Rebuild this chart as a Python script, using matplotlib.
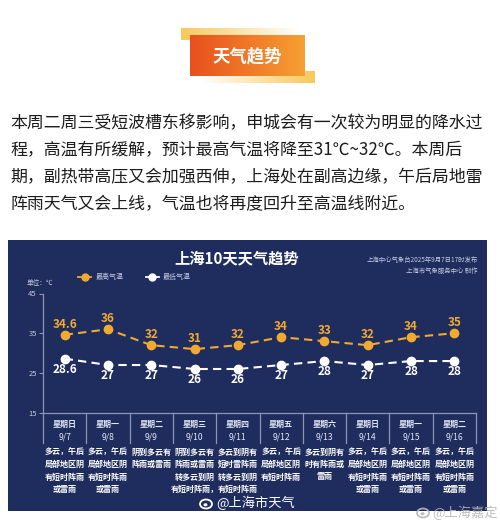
import matplotlib
matplotlib.use('Agg')
import matplotlib.pyplot as plt
import numpy as np
from matplotlib import transforms
from matplotlib.patches import Rectangle, Ellipse
from matplotlib.lines import Line2D

plt.rcParams['font.family'] = ['Noto Sans CJK SC', 'DejaVu Sans']

# ---------------- data ----------------
weekdays = ["星期日", "星期一", "星期二", "星期三", "星期四",
            "星期五", "星期六", "星期日", "星期一", "星期二"]
dates = ["9/7", "9/8", "9/9", "9/10", "9/11", "9/12", "9/13", "9/14", "9/15", "9/16"]
high_temp = [34.6, 36, 32, 31, 32, 34, 33, 32, 34, 35]
low_temp = [28.6, 27, 27, 26, 26, 27, 28, 27, 28, 28]
y_ticks = [15, 25, 35, 45]
descriptions = [
    ["多云，午后", "局部地区阴", "有短时阵雨", "或雷雨"],
    ["多云，午后", "局部地区阴", "有短时阵雨", "或雷雨"],
    ["阴到多云有", "阵雨或雷雨"],
    ["阴到多云有", "阵雨或雷雨", "转多云到阴", "有短时阵雨，"],
    ["多云到阴有", "短时雷阵雨", "转多云到阴", "有短时阵雨"],
    ["多云，午后", "局部地区阴", "有短时阵雨"],
    ["多云到阴有", "时有阵雨或", "雷雨"],
    ["多云，午后", "局部地区阴", "有短时阵雨", "或雷雨"],
    ["多云，午后", "局部地区阴", "有短时阵雨", "或雷雨"],
    ["多云，午后", "局部地区阴", "有短时阵雨", "或雷雨"],
]
paragraph = [
    "本周二周三受短波槽东移影响，申城会有一次较为明显的降水过",
    "程，高温有所缓解，预计最高气温将降至31℃~32℃。本周后",
    "期，副热带高压又会加强西伸，上海处在副高边缘，午后局地雷",
    "阵雨天气又会上线，气温也将再度回升至高温线附近。",
]
banner_title = "天气趋势"
chart_title = "上海10天天气趋势"
source_lines = ["上海中心气象台2025年9月7日17时发布", "上海市气象服务中心 制作"]

# ---------------- figure ----------------
W, H = 500, 525
fig = plt.figure(figsize=(W / 100, H / 100), dpi=100)
fig.patch.set_facecolor('white')

bg = fig.add_axes([0, 0, 1, 1], zorder=0)
bg.set_xlim(0, W)
bg.set_ylim(H, 0)
bg.axis('off')

# banner
yellow = np.array([248, 200, 90]) / 255
grad_tl = np.zeros((1, 100, 4)); grad_tl[..., :3] = yellow; grad_tl[0, :, 3] = np.linspace(1, 0, 100)
bg.imshow(grad_tl, extent=(181, 300, 40, 28), aspect='auto', zorder=1)
grad_br = np.zeros((1, 100, 4)); grad_br[..., :3] = yellow; grad_br[0, :, 3] = np.linspace(0, 1, 100)
bg.imshow(grad_br, extent=(200, 315, 83, 71), aspect='auto', zorder=1)
c1 = np.array([232, 80, 30]) / 255
c2 = np.array([247, 160, 50]) / 255
t = np.linspace(0, 1, 100)[:, None]
grad = (c1 * (1 - t) + c2 * t)[None, :, :]
bg.imshow(grad, extent=(190, 305, 76, 35), aspect='auto', zorder=2)
bg.text(247, 56, banner_title, color='white', fontsize=12.5, fontweight='bold',
        ha='center', va='center', zorder=3)
bg.set_xlim(0, W); bg.set_ylim(H, 0)

# paragraph
for i, line in enumerate(paragraph):
    bg.text(10, 123 + 27 * i, line, fontsize=12.2, color='#1c1c1c', va='center', ha='left')

# chart panel
panel_color = '#1e2c5e'
bg.add_patch(Rectangle((8, 240), 479, 271, facecolor=panel_color, edgecolor='none', zorder=0))
bg.text(237, 258, chart_title, color='white', fontsize=11, fontweight='bold', ha='center', va='center')
bg.text(478, 260, source_lines[0], color='#c5cbe0', fontsize=4.6, ha='right', va='center')
bg.text(478, 271, source_lines[1], color='#c5cbe0', fontsize=4.6, ha='right', va='center')
bg.text(27, 283, "单位：℃", color='#c5cbe0', fontsize=4.8, ha='left', va='center')

# data axes
ax = fig.add_axes([43 / W, 1 - 412.7 / H, (476 - 43) / W, (412.7 - 293.5) / H], zorder=2)
ax.patch.set_alpha(0)
ax.set_xlim(-0.5, len(dates) - 0.5)
ax.set_ylim(15, 45)
for s in ['top', 'right']:
    ax.spines[s].set_visible(False)
for s in ['left', 'bottom']:
    ax.spines[s].set_color('#8c95b5')
    ax.spines[s].set_linewidth(0.9)
ax.set_xticks([])
ax.set_yticks(y_ticks)
ax.tick_params(axis='y', colors='#8c95b5', labelcolor='#c5cbe0', labelsize=5.5, length=3, width=0.8, pad=1.5)

x = np.arange(len(dates))
hi_color = '#f2a930'
ax.plot(x, high_temp, color=hi_color, lw=1.5, ls=(0, (4, 2.5)), marker='o', ms=6,
        mfc=hi_color, mec=hi_color, clip_on=False, zorder=3)
ax.plot(x, low_temp, color='white', lw=1.5, ls=(0, (4, 2.5)), marker='o', ms=6,
        mfc='white', mec='white', clip_on=False, zorder=3)
for i, v in enumerate(high_temp):
    ax.annotate(f"{v:g}", (i, v), xytext=(0, 7.5), textcoords='offset points',
                ha='center', va='center', color=hi_color, fontsize=8.5, fontweight='bold')
for i, v in enumerate(low_temp):
    ax.annotate(f"{v:g}", (i, v), xytext=(0, -7.5), textcoords='offset points',
                ha='center', va='center', color='white', fontsize=8.5, fontweight='bold')

# legend
handles = [Line2D([], [], color=hi_color, lw=1.3, marker='o', ms=5, mfc=hi_color, mec=hi_color),
           Line2D([], [], color='white', lw=1.3, marker='o', ms=5, mfc='white', mec='white')]
leg = fig.legend(handles, ["最高气温", "最低气温"], loc='center left',
                 bbox_to_anchor=(78 / W, 1 - 277 / H), ncol=2, frameon=False,
                 fontsize=5, handlelength=1.9, handletextpad=0.6, columnspacing=3.2,
                 borderpad=0, borderaxespad=0)
for txt in leg.get_texts():
    txt.set_color('#c5cbe0')

# table below chart
trans = transforms.blended_transform_factory(ax.transData, bg.transData)
for k in range(len(dates) + 1):
    ax.add_line(Line2D([k - 0.5, k - 0.5], [413, 443], transform=trans, color='#8c95b5',
                       lw=0.9, clip_on=False))
for i in range(len(dates)):
    ax.text(i, 424, weekdays[i], transform=trans, ha='center', va='center',
            color='#e4e8f4', fontsize=5.8, fontweight='bold')
    ax.text(i, 437, dates[i], transform=trans, ha='center', va='center',
            color='#e4e8f4', fontsize=6.2)
    for j, line in enumerate(descriptions[i]):
        ax.text(i, 452 + 12.5 * j, line, transform=trans, ha='center', va='center',
                color='white', fontsize=5.8, fontweight='bold')

# watermarks
def weibo_icon(cx, cy, color, alpha=1.0):
    bg.add_patch(Ellipse((cx, cy), 12, 9, facecolor='none', edgecolor=color, lw=1.3, alpha=alpha, zorder=5))
    bg.add_patch(Ellipse((cx - 0.5, cy + 0.8), 4, 3.2, facecolor=color, edgecolor='none', alpha=alpha, zorder=5))

weibo_icon(206, 504, 'white')
bg.text(216, 503, "@上海市天气", color='white', fontsize=9.5, ha='left', va='center', zorder=5)
weibo_icon(423, 513, '#b8b8b8', alpha=0.9)
bg.text(432, 513, "@上海嘉定", color='#b8b8b8', fontsize=9.5, ha='left', va='center', zorder=5, alpha=0.9)

fig.savefig('out.png', dpi=100, facecolor='white')
